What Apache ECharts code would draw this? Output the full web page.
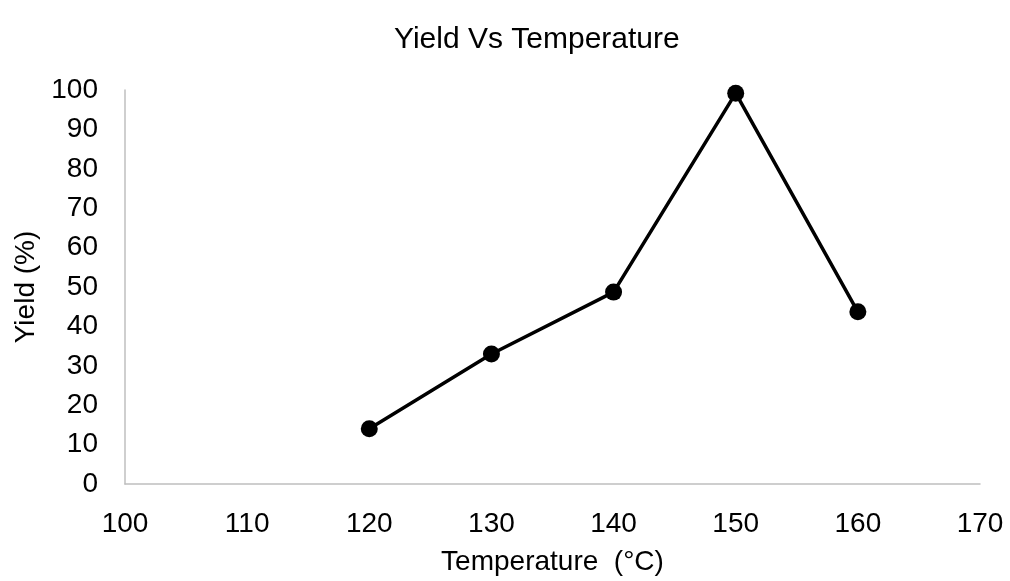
<!DOCTYPE html>
<html>
<head>
<meta charset="utf-8">
<script src="https://cdn.jsdelivr.net/npm/echarts@6/dist/echarts.min.js"></script>
<style>html,body{margin:0;padding:0;background:#fff}#c{width:1010px;height:581px}</style>
</head>
<body>
<div id="c"></div>
<script>
const temperatures = [120, 130, 140, 150, 160];
const yields = [14, 33, 48.7, 99.2, 43.7];
const xTicks = [100, 170, 10];
const yTicks = [0, 100, 10];

const chart = echarts.init(document.getElementById('c'));
const font = 'Liberation Sans, Arial, sans-serif';
chart.setOption({
  animation: false,
  backgroundColor: '#fff',
  title: {
    text: 'Yield Vs Temperature',
    left: 389, top: 20,
    textStyle: { fontFamily: font, fontSize: 30, fontWeight: 'normal', color: '#000' }
  },
  grid: { left: 125, right: 30, top: 90, bottom: 96, containLabel: false },
  xAxis: {
    type: 'value', min: xTicks[0], max: xTicks[1], interval: xTicks[2],
    name: 'Temperature  (°C)', nameLocation: 'middle', nameGap: 64,
    nameTextStyle: { fontFamily: font, fontSize: 28, color: '#000' },
    axisLine: { show: true, lineStyle: { color: '#bfbfbf', width: 1.5 } },
    axisTick: { show: false }, splitLine: { show: false },
    axisLabel: { fontFamily: font, fontSize: 28, color: '#000', margin: 26 }
  },
  yAxis: {
    type: 'value', min: yTicks[0], max: yTicks[1], interval: yTicks[2],
    name: 'Yield (%)', nameLocation: 'middle', nameGap: 82, nameRotate: 90,
    nameTextStyle: { fontFamily: font, fontSize: 28, color: '#000' },
    axisLine: { show: true, lineStyle: { color: '#bfbfbf', width: 1.5 } },
    axisTick: { show: false }, splitLine: { show: false },
    axisLabel: { fontFamily: font, fontSize: 28, color: '#000', margin: 27 }
  },
  series: [{
    type: 'line',
    data: temperatures.map((t, i) => [t, yields[i]]),
    symbol: 'circle', symbolSize: 17,
    lineStyle: { color: '#000', width: 3.5 },
    itemStyle: { color: '#000' }
  }]
});
</script>
</body>
</html>
